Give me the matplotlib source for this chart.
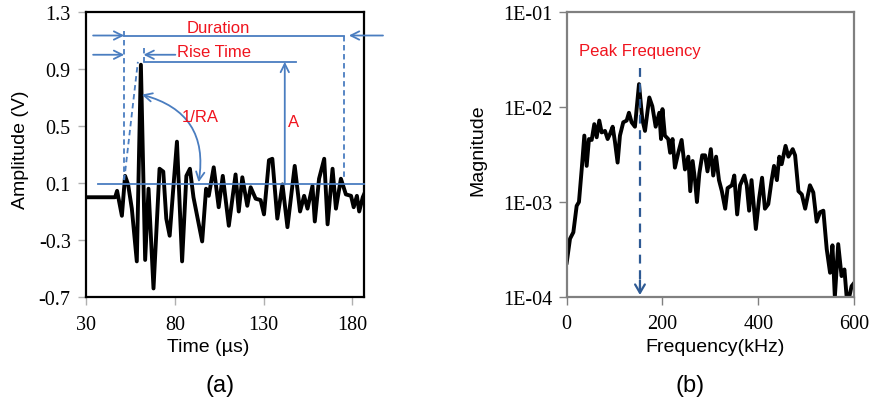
import matplotlib
matplotlib.use("Agg")
import matplotlib.pyplot as plt

# ---------------- data: (a) AE waveform ----------------
time_us = [30, 46.4, 47.5, 50.2, 52.0, 53.7, 55.8, 58.6, 60.9, 63.3, 65.2, 68.0,
           71.4, 73.5, 75.2, 77.1, 79.0, 81.2, 84.1, 86.5, 88.5, 90.5, 95.4, 97.6,
           99.1, 101.9, 104.7, 107.0, 110.4, 114.2, 116.0, 118.0, 120.8, 122.7,
           125.5, 128.3, 130.2, 133.0, 134.9, 137.7, 140.6, 143.4, 147.5, 150.5,
           152.8, 154.7, 157.5, 158.8, 161.2, 164.1, 166.0, 168.8, 170.7, 173.5,
           176.3, 179.2, 180.7, 182.5, 183.8, 185.8, 186.5]
amplitude_v = [0.0, 0.0, 0.045, -0.13, 0.15, 0.09, -0.08, -0.45, 0.93, -0.44, 0.06, -0.64,
               0.20, 0.18, -0.15, -0.27, 0.04, 0.39, -0.45, 0.15, 0.20, 0.0, -0.31, 0.06,
               0.01, 0.21, -0.07, 0.15, -0.20, 0.16, -0.10, 0.14, -0.06, 0.07,
               -0.01, -0.02, -0.12, 0.26, 0.27, -0.15, 0.09, -0.21, 0.22, -0.10,
               0.01, -0.08, 0.08, -0.17, 0.13, 0.27, -0.19, 0.20, -0.08, 0.13,
               0.02, 0.01, -0.07, 0.01, -0.10, 0.0, 0.02]

a_xticks = [30, 80, 130, 180]
a_yticks = [-0.7, -0.3, 0.1, 0.5, 0.9, 1.3]
a_yticklabels = ["-0.7", "-0.3", "0.1", "0.5", "0.9", "1.3"]

# annotation values (a)
threshold = 0.09
t_first = 51.5
t_last = 175.2
t_peak = 62.4
peak_amp = 0.95

# ---------------- data: (b) frequency spectrum ----------------
freq_khz = [0, 6.9, 13.9, 20.8, 25.6, 31.3, 36.8, 41.7, 46.5, 52.2, 57.6, 62.6, 68,
            73, 80, 85.5, 90.4, 96, 100.8, 106.3, 111.2, 118.1, 125.2, 130, 135.6,
            142.5, 151, 157.9, 163.5, 172.5, 178.8, 185.8, 193.4, 197, 200, 205,
            212, 216, 221, 226, 233, 240, 247, 254, 258, 263, 268, 272, 277, 283,
            289, 294, 301, 306, 312, 318, 324, 331, 336, 345, 350, 356, 362, 371,
            376, 381, 386, 395, 402, 408, 414, 421, 428, 433, 439, 444, 449, 457,
            463, 472, 477, 484, 491, 498, 508, 515, 522, 529, 536, 543, 550, 555,
            560, 567, 574, 580, 585, 590, 595, 600]
magnitude = [2.3e-4, 4.1e-4, 4.8e-4, 9.1e-4, 1.0e-3, 2.2e-3, 5.0e-3, 2.4e-3, 4.6e-3,
             4.5e-3, 6.6e-3, 4.8e-3, 7.2e-3, 5.4e-3, 5.6e-3, 4.6e-3, 5.2e-3, 6.2e-3,
             4.3e-3, 2.6e-3, 5.0e-3, 6.9e-3, 7.2e-3, 8.7e-3, 6.9e-3, 6.2e-3, 1.74e-2,
             7.4e-3, 5.6e-3, 1.26e-2, 1.02e-2, 6.2e-3, 8.7e-3, 4.6e-3, 9.5e-3, 5.0e-3,
             4.6e-3, 3.3e-3, 4.6e-3, 2.3e-3, 3.3e-3, 4.5e-3, 2.2e-3, 3.0e-3, 1.3e-3,
             2.7e-3, 1.7e-3, 1.0e-3, 2.0e-3, 3.1e-3, 3.1e-3, 2.1e-3, 3.6e-3, 1.9e-3,
             3.0e-3, 1.7e-3, 1.3e-3, 8.5e-4, 1.4e-3, 1.5e-3, 1.9e-3, 7.4e-4, 1.5e-3,
             1.9e-3, 1.5e-3, 8.1e-4, 1.7e-3, 5.2e-4, 1.1e-3, 1.8e-3, 8.5e-4, 9.5e-4,
             1.7e-3, 2.4e-3, 1.7e-3, 3.0e-3, 2.5e-3, 3.9e-3, 3.0e-3, 3.6e-3, 3.1e-3,
             1.3e-3, 1.2e-3, 8.5e-4, 1.5e-3, 1.26e-3, 6.2e-4, 7.8e-4, 8.1e-4, 3.2e-4,
             1.8e-4, 3.5e-4, 1.0e-4, 3.6e-4, 1.66e-4, 1.95e-4, 9.5e-5, 1.0e-4, 1.3e-4,
             1.4e-4]

b_xticks = [0, 200, 400, 600]
b_yticks = [1e-4, 1e-3, 1e-2, 1e-1]
b_yticklabels = ["1E-04", "1E-03", "1E-02", "1E-01"]
peak_freq = 153

# ---------------- styling ----------------
BLUE = "#4a7dc0"
DBLUE = "#2e5a94"
RED = "#f0141e"
SERIF = ["Liberation Serif", "DejaVu Serif"]
SANS = ["Liberation Sans", "DejaVu Sans"]

fig = plt.figure(figsize=(8.7, 4.1), dpi=100)
W, H = 870.0, 410.0
axA = fig.add_axes([86 / W, 1 - 298 / H, 278 / W, 285 / H])
axB = fig.add_axes([566.7 / W, 1 - 298 / H, 287.3 / W, 285 / H])

# ---------------- (a) ----------------
axA.plot(time_us, amplitude_v, color="black", lw=2.8, solid_joinstyle="round", zorder=2)
axA.set_xlim(30, 186.5)
axA.set_ylim(-0.7, 1.3)
axA.set_xticks(a_xticks)
axA.set_yticks(a_yticks)
axA.set_yticklabels(a_yticklabels)
for s in axA.spines.values():
    s.set_color("black")
    s.set_linewidth(1.6)
axA.tick_params(direction="out", length=6, width=1, color="#b0b0b0", labelsize=14.5)
axA.tick_params(axis="y", pad=5)
axA.tick_params(axis="x", pad=7)
for lab in axA.get_xticklabels() + axA.get_yticklabels():
    lab.set_family(SERIF)
axA.set_ylabel("Amplitude (V)", family=SANS, fontsize=14, va="center")
axA.yaxis.set_label_coords(-0.237, 0.52)
axA.set_xlabel("Time (µs)", family=SANS, fontsize=14, va="center")
axA.xaxis.set_label_coords(0.44, -0.172)

ann_kw = dict(color=BLUE, lw=1.3, zorder=4)
arrow_kw = dict(arrowstyle="->,head_length=0.6,head_width=0.3", color=BLUE, lw=1.3,
                shrinkA=0, shrinkB=0)
# threshold line
axA.plot([36.8, 186.5], [threshold, threshold], clip_on=False, **ann_kw)
# duration
y_dur = 1.135
axA.annotate("", xy=(t_first, y_dur), xytext=(34, y_dur), arrowprops=arrow_kw,
             annotation_clip=False, zorder=4)
axA.plot([t_first, t_last], [y_dur, y_dur], **ann_kw)
axA.annotate("", xy=(178, y_dur), xytext=(197.2, y_dur), arrowprops=arrow_kw,
             annotation_clip=False, zorder=4)
axA.plot([t_first, t_first], [1.17, 0.12], ls=(0, (3, 2)), **ann_kw)
axA.plot([t_last, t_last], [y_dur, 0.12], ls=(0, (3, 2)), **ann_kw)
axA.text(104.6, 1.19, "Duration", color=RED, fontsize=12, family=SANS,
         ha="center", va="center", zorder=5)
# rise time
y_rise = 1.0
axA.annotate("", xy=(t_first, y_rise), xytext=(34, y_rise), arrowprops=arrow_kw,
             annotation_clip=False, zorder=4)
axA.annotate("", xy=(t_peak, y_rise), xytext=(80.3, y_rise), arrowprops=arrow_kw,
             zorder=4)
axA.plot([t_peak, t_peak], [1.05, peak_amp], ls=(0, (3, 2)), **ann_kw)
axA.text(81.4, 1.02, "Rise Time", color=RED, fontsize=12, family=SANS,
         ha="left", va="center", zorder=5)
# slanted rise line
axA.plot([t_first, 59.2], [0.12, peak_amp], ls=(0, (3, 2)), **ann_kw)
# amplitude
axA.plot([t_peak, 148.1], [peak_amp, peak_amp], **ann_kw)
axA.annotate("", xy=(141.9, peak_amp), xytext=(141.9, threshold), arrowprops=arrow_kw,
             zorder=4)
axA.text(147, 0.53, "A", color=RED, fontsize=12, family=SANS,
         ha="center", va="center", zorder=5)
# 1/RA arc
axA.annotate("", xy=(93.4, 0.105), xytext=(61.4, 0.72),
             arrowprops=dict(arrowstyle="<->,head_length=0.6,head_width=0.3",
                             color=BLUE, lw=1.3, shrinkA=0, shrinkB=0,
                             connectionstyle="arc3,rad=-0.45"), zorder=4)
axA.text(94.4, 0.57, "1/RA", color=RED, fontsize=12, family=SANS,
         ha="center", va="center", zorder=5)

# ---------------- (b) ----------------
axB.plot(freq_khz, magnitude, color="black", lw=2.8, solid_joinstyle="round", zorder=2)
axB.set_yscale("log")
axB.set_xlim(0, 600)
axB.set_ylim(1e-4, 1e-1)
axB.set_xticks(b_xticks)
axB.set_yticks(b_yticks)
axB.set_yticklabels(b_yticklabels)
axB.yaxis.set_minor_locator(matplotlib.ticker.NullLocator())
for s in axB.spines.values():
    s.set_color("#808080")
    s.set_linewidth(1.6)
axB.tick_params(direction="out", length=6, width=1, color="#808080", labelsize=14.5)
axB.tick_params(axis="y", pad=4.5)
axB.tick_params(axis="x", pad=6.5)
for lab in axB.get_xticklabels() + axB.get_yticklabels():
    lab.set_family(SERIF)
axB.set_ylabel("Magnitude", family=SANS, fontsize=14, va="center")
axB.yaxis.set_label_coords(-0.309, 0.52)
axB.set_xlabel("Frequency(kHz)", family=SANS, fontsize=14, va="center")
axB.xaxis.set_label_coords(0.516, -0.175)

axB.plot([peak_freq, peak_freq], [0.026, 1.15e-4], color=DBLUE, lw=1.6,
         ls=(0, (4, 3)), zorder=3)
axB.annotate("", xy=(peak_freq, 1.05e-4), xytext=(peak_freq, 1.5e-4),
             arrowprops=dict(arrowstyle="->,head_length=0.6,head_width=0.35",
                             color=DBLUE, lw=1.6, shrinkA=0, shrinkB=0), zorder=3)
axB.text(peak_freq, 0.039, "Peak Frequency", color=RED, fontsize=12, family=SANS,
         ha="center", va="center", zorder=5)

# panel labels
fig.text(220 / W, 1 - 386 / H, "(a)", family=SANS, fontsize=17, ha="center", va="center")
fig.text(690 / W, 1 - 386 / H, "(b)", family=SANS, fontsize=17, ha="center", va="center")

fig.savefig("out.png", dpi=100)
